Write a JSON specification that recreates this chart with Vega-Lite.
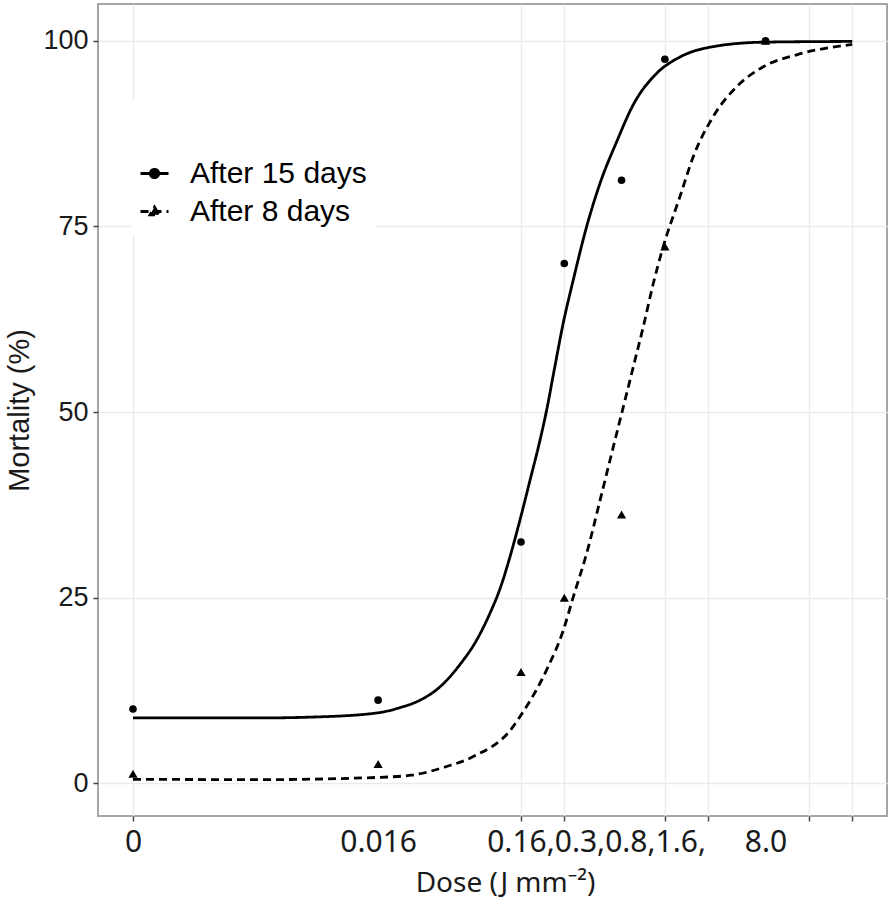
{
  "$schema": "https://vega.github.io/schema/vega-lite/v6.json",
  "width": 789,
  "height": 812,
  "autosize": {"type": "none"},
  "padding": {"left": 98, "top": 4, "right": 5, "bottom": 90},
  "config": {
    "view": {"stroke": "#a6a6a6", "strokeWidth": 2},
    "axis": {
      "domain": false,
      "gridColor": "#ebebeb",
      "gridWidth": 1.4,
      "tickColor": "#444444",
      "tickWidth": 1.5,
      "tickSize": 5,
      "labelColor": "#1a1a1a",
      "titleColor": "#1a1a1a",
      "titleFontWeight": "normal"
    }
  },
  "datasets": {
    "curves": [
      {"dose": 0, "mortality": 8.8, "series": "After 15 days"},
      {"dose": 0.002, "mortality": 8.8, "series": "After 15 days"},
      {"dose": 0.006, "mortality": 8.95, "series": "After 15 days"},
      {"dose": 0.016, "mortality": 9.5, "series": "After 15 days"},
      {"dose": 0.0229, "mortality": 10.2, "series": "After 15 days"},
      {"dose": 0.0316, "mortality": 11.2, "series": "After 15 days"},
      {"dose": 0.0436, "mortality": 13.0, "series": "After 15 days"},
      {"dose": 0.0601, "mortality": 16.0, "series": "After 15 days"},
      {"dose": 0.0786, "mortality": 19.3, "series": "After 15 days"},
      {"dose": 0.0973, "mortality": 22.9, "series": "After 15 days"},
      {"dose": 0.1143, "mortality": 26.2, "series": "After 15 days"},
      {"dose": 0.1341, "mortality": 30.5, "series": "After 15 days"},
      {"dose": 0.1576, "mortality": 35.5, "series": "After 15 days"},
      {"dose": 0.1848, "mortality": 40.8, "series": "After 15 days"},
      {"dose": 0.2169, "mortality": 46.2, "series": "After 15 days"},
      {"dose": 0.2415, "mortality": 50.3, "series": "After 15 days"},
      {"dose": 0.2684, "mortality": 55.0, "series": "After 15 days"},
      {"dose": 0.3149, "mortality": 62.0, "series": "After 15 days"},
      {"dose": 0.3696, "mortality": 67.8, "series": "After 15 days"},
      {"dose": 0.4582, "mortality": 75.0, "series": "After 15 days"},
      {"dose": 0.567, "mortality": 80.8, "series": "After 15 days"},
      {"dose": 0.74, "mortality": 86.4, "series": "After 15 days"},
      {"dose": 0.966, "mortality": 91.4, "series": "After 15 days"},
      {"dose": 1.403, "mortality": 95.6, "series": "After 15 days"},
      {"dose": 2.036, "mortality": 97.8, "series": "After 15 days"},
      {"dose": 3.468, "mortality": 99.2, "series": "After 15 days"},
      {"dose": 7.722, "mortality": 99.8, "series": "After 15 days"},
      {"dose": 32, "mortality": 99.9, "series": "After 15 days"},
      {"dose": 0, "mortality": 0.54, "series": "After 8 days"},
      {"dose": 0.0022, "mortality": 0.5, "series": "After 8 days"},
      {"dose": 0.016, "mortality": 0.8, "series": "After 8 days"},
      {"dose": 0.0276, "mortality": 1.1, "series": "After 8 days"},
      {"dose": 0.0472, "mortality": 2.2, "series": "After 8 days"},
      {"dose": 0.0744, "mortality": 3.6, "series": "After 8 days"},
      {"dose": 0.138, "mortality": 7.4, "series": "After 8 days"},
      {"dose": 0.1576, "mortality": 9.0, "series": "After 8 days"},
      {"dose": 0.2415, "mortality": 15.3, "series": "After 8 days"},
      {"dose": 0.3149, "mortality": 20.6, "series": "After 8 days"},
      {"dose": 0.3696, "mortality": 25.1, "series": "After 8 days"},
      {"dose": 0.4582, "mortality": 31.0, "series": "After 8 days"},
      {"dose": 0.567, "mortality": 38.1, "series": "After 8 days"},
      {"dose": 0.701, "mortality": 45.3, "series": "After 8 days"},
      {"dose": 0.823, "mortality": 50.7, "series": "After 8 days"},
      {"dose": 0.966, "mortality": 56.1, "series": "After 8 days"},
      {"dose": 1.133, "mortality": 61.5, "series": "After 8 days"},
      {"dose": 1.329, "mortality": 67.3, "series": "After 8 days"},
      {"dose": 1.56, "mortality": 72.3, "series": "After 8 days"},
      {"dose": 2.036, "mortality": 79.0, "series": "After 8 days"},
      {"dose": 2.521, "mortality": 84.4, "series": "After 8 days"},
      {"dose": 3.468, "mortality": 89.8, "series": "After 8 days"},
      {"dose": 5.045, "mortality": 93.8, "series": "After 8 days"},
      {"dose": 7.722, "mortality": 96.5, "series": "After 8 days"},
      {"dose": 13.16, "mortality": 98.1, "series": "After 8 days"},
      {"dose": 32, "mortality": 99.5, "series": "After 8 days"}
    ],
    "points": [
      {"dose": 0, "mortality": 10.0, "series": "After 15 days"},
      {"dose": 0.016, "mortality": 11.2, "series": "After 15 days"},
      {"dose": 0.16, "mortality": 32.5, "series": "After 15 days"},
      {"dose": 0.32, "mortality": 70.0, "series": "After 15 days"},
      {"dose": 0.8, "mortality": 81.2, "series": "After 15 days"},
      {"dose": 1.6, "mortality": 97.5, "series": "After 15 days"},
      {"dose": 8, "mortality": 100, "series": "After 15 days"},
      {"dose": 0, "mortality": 1.3, "series": "After 8 days"},
      {"dose": 0.016, "mortality": 2.6, "series": "After 8 days"},
      {"dose": 0.16, "mortality": 15.0, "series": "After 8 days"},
      {"dose": 0.32, "mortality": 25.0, "series": "After 8 days"},
      {"dose": 0.8, "mortality": 36.2, "series": "After 8 days"},
      {"dose": 1.6, "mortality": 72.3, "series": "After 8 days"},
      {"dose": 8, "mortality": 100, "series": "After 8 days"}
    ]
  },
  "encoding": {
    "x": {
      "field": "dose",
      "type": "quantitative",
      "scale": {"type": "symlog", "constant": 0.000324, "domain": [-0.000243, 55.8], "nice": false, "zero": false},
      "axis": {
        "values": [0, 0.016, 0.16, 0.32, 0.532, 1.6, 3.2, 8, 16, 32],
        "labelExpr": "datum.value == 0 ? '0' : datum.value == 0.016 ? '0.016' : datum.value == 0.532 ? '0.16,0.3,0.8,1.6,' : datum.value == 8 ? '8.0' : ''",
        "tickOpacity": {"condition": {"test": "datum.value == 0.016 || datum.value == 0.532 || datum.value == 8", "value": 0}, "value": 1},
        "gridOpacity": {"condition": {"test": "datum.value == 0.016 || datum.value == 0.532 || datum.value == 8", "value": 0}, "value": 1},
        "labelOverlap": false,
        "labelBound": false,
        "labelFlush": false,
        "labelLimit": 0,
        "labelFont": "Noto Sans",
        "labelFontSize": 30,
        "labelPadding": 6,
        "title": "Dose (J mm⁻²)",
        "titleFont": "Noto Sans",
        "titleFontSize": 28,
        "titlePadding": 12,
        "titleX": 407
      }
    },
    "y": {
      "field": "mortality",
      "type": "quantitative",
      "scale": {"domain": [-4.4, 104.94], "nice": false, "zero": false},
      "axis": {
        "values": [0, 25, 50, 75, 100],
        "labelFont": "Liberation Sans",
        "labelFontSize": 27,
        "labelPadding": 5,
        "title": "Mortality (%)",
        "titleFont": "Liberation Sans",
        "titleFontSize": 29,
        "titlePadding": 8
      }
    }
  },
  "layer": [
    {
      "data": {"name": "curves"},
      "mark": {"type": "line", "interpolate": "monotone", "strokeWidth": 2.8, "color": "black"},
      "encoding": {
        "strokeDash": {
          "field": "series",
          "type": "nominal",
          "scale": {"domain": ["After 15 days", "After 8 days"], "range": [[1, 0], [8, 5]]},
          "legend": {
            "orient": "none",
            "legendX": 33,
            "legendY": 96,
            "title": " ",
            "titleFontSize": 26,
            "titlePadding": 24,
            "fillColor": "white",
            "padding": 8,
            "labelFont": "Liberation Sans",
            "labelFontSize": 30,
            "labelColor": "black",
            "labelOffset": 20,
            "labelLimit": 400,
            "symbolSize": 784,
            "symbolType": {"expr": "datum.value == 'After 15 days' ? 'M-1,0H1M-0.3,0A0.3,0.3 0 1,0 0.3,0A0.3,0.3 0 1,0 -0.3,0Z' : 'M-1,0H1M0,-0.32L0.32,0.24L-0.32,0.24Z'"},
            "symbolStrokeWidth": 2.8,
            "symbolStrokeColor": "black",
            "symbolFillColor": "black",
            "symbolOpacity": 1,
            "rowPadding": 7
          }
        }
      }
    },
    {
      "data": {"name": "points"},
      "transform": [{"filter": "datum.series == 'After 15 days'"}],
      "mark": {"type": "point", "shape": "circle", "filled": true, "opacity": 1, "color": "black", "size": 58}
    },
    {
      "data": {"name": "points"},
      "transform": [{"filter": "datum.series == 'After 8 days'"}],
      "mark": {"type": "point", "shape": "triangle-up", "filled": true, "opacity": 1, "color": "black", "size": 85}
    }
  ]
}
